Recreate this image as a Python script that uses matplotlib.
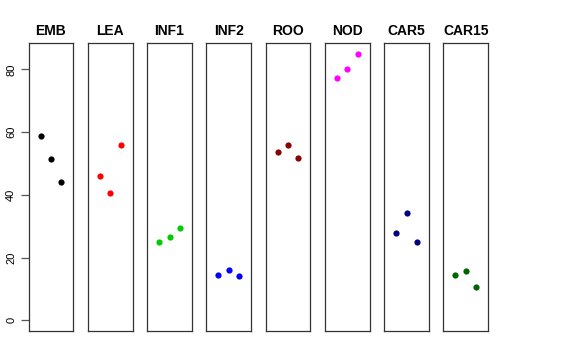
import matplotlib
matplotlib.use("Agg")
import matplotlib.pyplot as plt

plt.rcParams['font.family'] = ['Liberation Sans', 'DejaVu Sans']

tissues = ["EMB", "LEA", "INF1", "INF2", "ROO", "NOD", "CAR5", "CAR15"]
colors = ["black", "red", "#00CD00", "blue", "#8B0000", "magenta", "#000080", "#006400"]
reps = [1, 2, 3]
values = [
    [58.7, 51.4, 44.2],
    [46.1, 40.7, 56.0],
    [25.0, 26.6, 29.3],
    [14.3, 16.2, 14.0],
    [53.7, 56.0, 51.7],
    [77.2, 80.2, 85.0],
    [27.9, 34.3, 25.1],
    [14.4, 15.6, 10.7],
]
yticks = [0, 20, 40, 60, 80]

W, H = 576, 360
fig = plt.figure(figsize=(W / 100, H / 100), dpi=100)

left0, step, pw = 28.7, 59.25, 44.6
top, bottom = 43, 331
for i, name in enumerate(tissues):
    ax = fig.add_axes([(left0 + i * step) / W, 1 - bottom / H, pw / W, (bottom - top) / H])
    ax.scatter(reps, values[i], s=20, color=colors[i], zorder=3, linewidths=0)
    ax.set_xlim(-0.15, 4.15)
    ax.set_ylim(-3.4, 88.4)
    ax.set_xticks([])
    ax.set_title(name, fontsize=10, fontweight="bold", pad=6)
    for sp in ax.spines.values():
        sp.set_linewidth(0.9)
        sp.set_color("#333333")
    if i == 0:
        ax.set_yticks(yticks)
        ax.set_yticklabels([str(t) for t in yticks], rotation=90, va="center", fontsize=8)
        ax.tick_params(axis="y", length=6, width=0.9, color="#555555", pad=3)
    else:
        ax.set_yticks([])

fig.savefig("out.png", dpi=100)
